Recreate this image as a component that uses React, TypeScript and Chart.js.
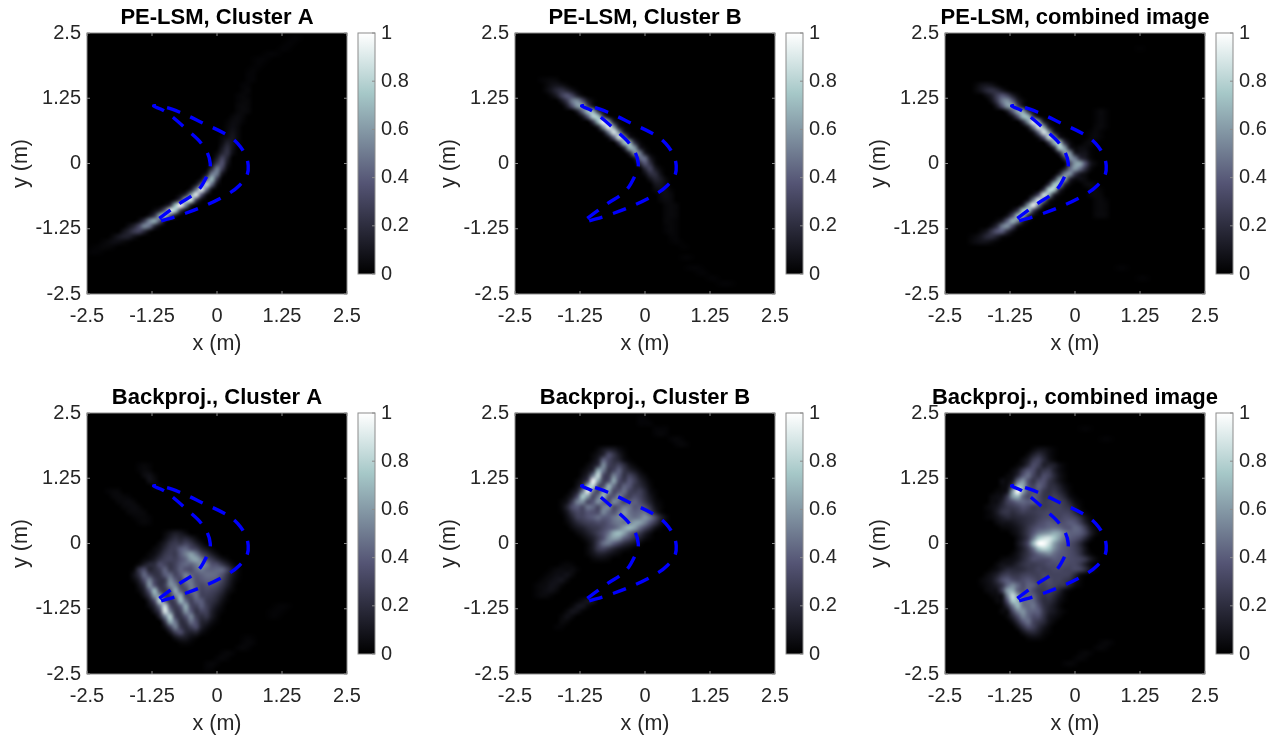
import React, { useEffect, useRef } from "react";
import { Chart, registerables } from "chart.js";

Chart.register(...registerables);

type Row = number[];

const axisTicks = [-2.5, -1.25, 0, 1.25, 2.5];
const barTicks = [0, 0.2, 0.4, 0.6, 0.8, 1];
const boneStops = [
  [0, 0, 0, 0],
  [0.375, 84, 84, 116],
  [0.75, 166, 200, 200],
  [1, 255, 255, 255],
];

const innerX = [-1.11, -0.71, -0.39, -0.2, -0.13, -0.26, -0.58, -1.0, -1.22];
const innerY = [-1.05, -0.76, -0.54, -0.25, 0.0, 0.33, 0.65, 1.0, 1.1];
const outerX = [-1.0, -0.71, -0.26, 0.19, 0.4, 0.54, 0.6, 0.57, 0.43, 0.25, -0.17, -0.65, -1.14];
const outerY = [1.08, 0.98, 0.77, 0.55, 0.38, 0.17, -0.04, -0.24, -0.42, -0.56, -0.78, -0.97, -1.12];

// Each row: y (m), first x (m), then values in percent at a 0.1 m step.
const peA: Row[] = [
  [2.4, 1.4, 1, 2, 1], [2.3, 1.3, 1, 2, 1], [2.2, 1.2, 1, 2, 1], [2.1, 0.9, 1, 2, 2, 1], [2.0, 0.7, 1, 2, 2, 1],
  [1.9, 0.7, 1, 2, 1], [1.8, 0.6, 1, 2, 1], [1.7, 0.6, 2, 2], [1.6, 0.6, 2, 2], [1.5, 0.5, 2, 2], [1.4, 0.5, 2, 3],
  [1.3, 0.4, 2, 3, 2], [1.2, 0.4, 2, 3, 3], [1.1, 0.4, 3, 4, 3], [1.0, 0.4, 3, 4, 3], [0.9, 0.3, 3, 5, 3],
  [0.8, 0.2, 2, 5, 5, 2], [0.7, 0.2, 3, 6, 4], [0.6, 0.2, 4, 8, 4], [0.5, 0.1, 3, 6, 10, 4], [0.4, 0.1, 5, 14, 9, 3],
  [0.3, 0.1, 10, 20, 8], [0.2, 0, 4, 16, 22, 6], [0.1, 0, 12, 30, 16], [0, -0.1, 5, 26, 36, 10],
  [-0.1, -0.1, 20, 50, 28, 4], [-0.2, -0.2, 10, 50, 50, 10], [-0.3, -0.3, 8, 42, 70, 25],
  [-0.4, -0.4, 10, 42, 82, 45, 6], [-0.5, -0.5, 12, 50, 92, 45, 6], [-0.6, -0.7, 5, 20, 60, 92, 38, 6],
  [-0.7, -0.8, 8, 30, 78, 88, 28, 4], [-0.8, -1.0, 5, 20, 72, 100, 55, 12], [-0.9, -1.2, 5, 15, 42, 90, 78, 25, 4],
  [-1.0, -1.3, 8, 24, 64, 78, 40, 10], [-1.1, -1.5, 6, 24, 54, 66, 38, 10], [-1.2, -1.7, 6, 15, 32, 54, 48, 18, 4],
  [-1.3, -1.8, 8, 16, 26, 30, 18, 5], [-1.4, -2.0, 4, 10, 14, 14, 8, 3], [-1.5, -2.2, 2, 4, 6, 6, 4, 2],
  [-1.6, -2.4, 1, 2, 3, 3, 2], [-1.7, -2.5, 1, 2, 2, 1],
];

const peB: Row[] = [
  [1.6, -2.0, 2, 3, 4, 3], [1.5, -1.9, 3, 7, 9, 7, 3], [1.4, -1.9, 4, 10, 18, 22, 16, 8, 2], [1.3, -1.8, 4, 12, 28, 38, 30, 14, 4],
  [1.2, -1.6, 10, 26, 50, 56, 36, 12, 3], [1.1, -1.5, 12, 36, 60, 62, 30, 8], [1.0, -1.3, 14, 44, 72, 66, 22, 5],
  [0.9, -1.2, 10, 40, 80, 74, 26, 5], [0.8, -1.0, 24, 72, 100, 62, 14, 3], [0.7, -0.9, 14, 60, 96, 58, 12, 2],
  [0.6, -0.8, 10, 50, 90, 55, 12, 2], [0.5, -0.7, 8, 42, 88, 56, 14, 3], [0.4, -0.5, 28, 74, 70, 22, 4],
  [0.3, -0.4, 20, 68, 60, 14, 3], [0.2, -0.3, 16, 56, 50, 12, 2], [0.1, -0.2, 10, 44, 46, 12, 2],
  [0, -0.1, 18, 38, 22, 4], [-0.1, 0, 18, 30, 12, 3], [-0.2, 0, 6, 20, 20, 7], [-0.3, 0.1, 8, 16, 12, 4],
  [-0.4, 0.2, 9, 10, 5], [-0.5, 0.2, 4, 7, 6, 2], [-0.6, 0.3, 4, 6, 4], [-0.7, 0.3, 3, 5, 4], [-0.8, 0.4, 3, 4, 3],
  [-0.9, 0.4, 3, 4, 3], [-1.0, 0.4, 3, 4, 3], [-1.1, 0.4, 3, 3, 2], [-1.2, 0.4, 2, 3, 2], [-1.3, 0.4, 2, 3, 2],
  [-1.4, 0.5, 2, 2], [-1.5, 0.5, 1, 2, 1], [-1.6, 0.7, 1, 1], [-1.8, 0.7, 1, 2, 1], [-2.0, 0.8, 1, 2, 2, 1], [-2.1, 1.0, 1, 2, 1],
  [-2.2, 1.2, 1, 2, 1], [-2.3, 1.4, 1, 2, 2, 1],
];

const peCombined: Row[] = [
  [1.5, -1.9, 3, 8, 10, 8, 3], [1.4, -1.9, 4, 10, 18, 22, 18, 10, 3], [1.3, -1.7, 6, 14, 28, 38, 30, 14, 4],
  [1.2, -1.6, 8, 26, 50, 58, 40, 14, 4], [1.1, -1.5, 12, 36, 60, 62, 30, 8], [1.0, -1.3, 12, 40, 66, 62, 22, 5],
  [1.0, 0.4, 2, 4, 2], [0.9, -1.2, 8, 36, 72, 70, 26, 5], [0.9, 0.4, 2, 4, 2], [0.8, -1.0, 20, 60, 95, 62, 14, 3],
  [0.8, 0.4, 2, 4, 2], [0.7, -0.9, 12, 52, 92, 60, 14, 2], [0.7, 0.4, 3, 4, 2], [0.6, -0.8, 10, 46, 90, 58, 12, 2],
  [0.6, 0.3, 2, 4, 2], [0.5, -0.7, 8, 38, 85, 58, 14, 3], [0.5, 0.3, 3, 4, 2], [0.4, -0.5, 26, 70, 76, 24, 5],
  [0.4, 0.2, 3, 5, 2], [0.3, -0.4, 20, 78, 62, 14, 3, 5, 5, 2], [0.2, -0.3, 18, 60, 58, 12, 8, 8, 2],
  [0.1, -0.2, 22, 58, 50, 20, 12, 3], [0, -0.1, 30, 60, 64, 36, 10, 3], [-0.1, -0.2, 12, 44, 60, 46, 22, 5],
  [-0.2, -0.3, 16, 52, 58, 26, 10, 5], [-0.3, -0.4, 20, 66, 64, 18, 5, 6, 4], [-0.4, -0.5, 22, 74, 72, 20, 4],
  [-0.4, 0.2, 4, 5, 2], [-0.5, -0.6, 24, 80, 78, 20, 3], [-0.5, 0.3, 3, 4, 2], [-0.6, -0.8, 8, 34, 88, 64, 16, 3],
  [-0.6, 0.3, 3, 4, 3], [-0.7, -0.9, 10, 50, 90, 52, 12, 2], [-0.7, 0.4, 3, 4, 2], [-0.8, -1.0, 14, 60, 95, 50, 10, 2],
  [-0.8, 0.4, 3, 4, 3], [-0.9, -1.2, 6, 26, 74, 76, 30, 6], [-0.9, 0.4, 3, 4, 3], [-1.0, -1.3, 8, 34, 72, 66, 22, 4],
  [-1.0, 0.4, 3, 4, 3], [-1.1, -1.5, 4, 14, 42, 68, 52, 16, 3], [-1.2, -1.6, 6, 20, 50, 58, 34, 8, 2],
  [-1.3, -1.8, 4, 10, 24, 38, 40, 20, 6], [-1.4, -2.0, 2, 5, 10, 18, 20, 14, 5, 2], [-1.5, -2.0, 3, 6, 8, 8, 5, 2],
  [-2.0, 0.8, 1, 2, 1], [-2.2, 1.2, 1, 2, 1], [2.2, 1.2, 1, 1],
];

const bpA: Row[] = [
  [1.5, -1.5, 2, 3, 2], [1.4, -1.5, 2, 4, 3], [1.3, -1.4, 5, 7, 3], [1.2, -1.3, 7, 5], [1.1, -1.2, 3, 2],
  [1.0, -2.1, 2, 3, 3], [0.9, -2.0, 3, 4, 3, 2], [0.8, -1.9, 3, 4, 5, 3], [0.7, -1.8, 3, 4, 5, 3], [0.6, -1.7, 3, 4, 4, 3],
  [0.5, -1.6, 2, 3, 3, 2], [0.4, -1.5, 2, 3, 2],
  [0.2, -1.0, 3, 8, 12, 10, 5],
  [0.1, -1.0, 6, 14, 20, 16, 18, 12, 5],
  [0, -1.1, 5, 12, 22, 26, 24, 30, 24, 14, 6],
  [-0.1, -1.2, 4, 8, 18, 26, 28, 40, 44, 34, 28, 16, 8, 3],
  [-0.2, -1.3, 3, 6, 14, 24, 28, 26, 40, 52, 62, 50, 32, 22, 12, 5],
  [-0.3, -1.4, 3, 6, 12, 22, 28, 30, 28, 36, 44, 60, 64, 50, 34, 26, 16, 8, 3],
  [-0.4, -1.5, 4, 12, 18, 20, 34, 30, 24, 30, 40, 44, 42, 50, 58, 50, 36, 34, 24, 14, 5],
  [-0.5, -1.6, 3, 24, 34, 16, 20, 28, 42, 26, 30, 42, 36, 34, 44, 50, 44, 42, 44, 44, 30, 14, 4],
  [-0.6, -1.6, 8, 22, 44, 30, 22, 24, 40, 44, 30, 38, 52, 42, 38, 42, 46, 46, 44, 36, 22, 10, 3],
  [-0.7, -1.6, 4, 14, 34, 52, 30, 22, 26, 54, 40, 30, 50, 48, 36, 38, 42, 42, 40, 30, 18, 7, 2],
  [-0.8, -1.5, 8, 22, 58, 36, 22, 28, 56, 52, 30, 40, 50, 38, 32, 36, 36, 32, 24, 14, 5],
  [-0.9, -1.5, 4, 14, 40, 70, 32, 24, 36, 66, 40, 30, 48, 42, 30, 32, 30, 26, 18, 8, 3],
  [-1.0, -1.4, 8, 24, 60, 58, 26, 28, 52, 66, 30, 34, 46, 30, 28, 26, 20, 12, 4],
  [-1.1, -1.3, 12, 34, 82, 42, 24, 32, 70, 46, 28, 40, 40, 26, 22, 16, 7, 2],
  [-1.2, -1.3, 6, 18, 48, 86, 34, 24, 40, 66, 32, 28, 40, 28, 18, 10, 4],
  [-1.3, -1.2, 10, 28, 90, 52, 24, 28, 58, 40, 22, 30, 28, 14, 6, 2],
  [-1.4, -1.1, 16, 50, 80, 30, 22, 36, 54, 28, 20, 24, 12, 4],
  [-1.5, -1.0, 24, 66, 48, 20, 24, 46, 34, 16, 14, 6, 2],
  [-1.6, -1.0, 8, 30, 52, 26, 18, 28, 34, 14, 6, 2],
  [-1.7, -0.9, 10, 28, 34, 18, 14, 16, 6, 2],
  [-1.8, -0.8, 8, 14, 12, 6, 3],
  [-1.9, -0.7, 3, 4, 2],
  [-1.2, 1.1, 1, 2, 2, 1], [-1.3, 1.0, 1, 2, 2, 1], [-1.4, 1.0, 1, 2, 1],
  [-1.8, 0.5, 1, 2, 1], [-1.9, 0.5, 2, 3, 2], [-2.0, 0.4, 2, 3, 2], [-2.1, 0.1, 2, 3, 2], [-2.2, 0, 2, 3, 2],
  [-2.3, -0.2, 2, 3, 2], [-2.4, -0.2, 2, 2],
];

const bpB: Row[] = [
  [2.4, -0.1, 2, 2], [2.3, -0.1, 2, 2, 2], [2.2, 0.2, 2, 2, 2], [2.1, 0.2, 2, 3, 2], [2.0, 0.5, 2, 3, 2],
  [1.9, 0.6, 2, 3, 2],
  [1.8, -0.9, 4, 10, 14, 12, 6, 2],
  [1.7, -1.0, 3, 8, 16, 34, 24, 12, 4],
  [1.6, -1.0, 5, 14, 42, 32, 22, 16, 6, 2],
  [1.5, -1.1, 4, 10, 22, 56, 30, 24, 30, 20, 8, 3],
  [1.4, -1.2, 3, 8, 18, 66, 50, 24, 30, 42, 24, 16, 10, 4],
  [1.3, -1.2, 6, 16, 50, 84, 32, 26, 52, 40, 22, 30, 22, 10, 4],
  [1.2, -1.3, 4, 12, 30, 96, 62, 28, 34, 64, 34, 26, 38, 28, 16, 8, 2],
  [1.1, -1.3, 8, 22, 72, 82, 34, 34, 68, 46, 28, 42, 38, 24, 20, 12, 4],
  [1.0, -1.4, 6, 16, 50, 92, 48, 30, 60, 60, 32, 38, 46, 30, 26, 28, 18, 6, 2],
  [0.9, -1.5, 4, 12, 34, 76, 60, 32, 48, 70, 38, 38, 54, 36, 28, 34, 30, 20, 10, 3],
  [0.8, -1.6, 3, 8, 26, 52, 56, 32, 38, 58, 44, 34, 56, 46, 30, 38, 42, 34, 24, 14, 5, 2],
  [0.7, -1.6, 4, 16, 34, 40, 32, 48, 44, 32, 50, 54, 34, 40, 50, 48, 38, 40, 34, 22, 8, 3],
  [0.6, -1.6, 2, 10, 24, 32, 30, 38, 36, 34, 54, 44, 36, 48, 60, 48, 42, 44, 46, 30, 14, 4],
  [0.5, -1.5, 6, 16, 28, 30, 36, 40, 46, 40, 40, 48, 54, 54, 50, 46, 50, 58, 50, 34, 16, 5],
  [0.4, -1.5, 3, 10, 18, 24, 28, 30, 34, 32, 38, 46, 50, 48, 52, 62, 62, 52, 38, 24, 10, 3],
  [0.3, -1.4, 5, 10, 14, 20, 24, 26, 32, 38, 42, 50, 62, 70, 62, 46, 32, 20, 8, 2],
  [0.2, -1.3, 4, 8, 14, 20, 28, 36, 48, 66, 72, 62, 46, 34, 26, 14, 6],
  [0.1, -1.2, 3, 8, 14, 24, 36, 54, 62, 58, 42, 32, 22, 14, 6, 2],
  [0, -1.1, 4, 12, 28, 46, 50, 40, 30, 20, 14, 8, 3], [-0.1, -1.1, 4, 12, 26, 30, 24, 16, 10, 6, 3],
  [-0.2, -1.1, 3, 8, 14, 14, 10, 6, 3], [-0.3, -1.0, 3, 5, 5, 3],
  [-0.4, -1.6, 2, 3, 2], [-0.5, -1.8, 2, 4, 5, 4, 5, 2], [-0.6, -1.9, 2, 4, 6, 6, 8, 4], [-0.7, -2.0, 2, 4, 6, 8, 9, 4],
  [-0.8, -2.1, 2, 4, 5, 8, 7, 3], [-0.9, -2.1, 2, 4, 6, 7, 4], [-1.0, -2.1, 2, 4, 4, 2],
  [-1.1, -1.3, 2, 6, 10, 8], [-1.2, -1.4, 3, 9, 10, 4], [-1.3, -1.5, 4, 9, 7, 2], [-1.4, -1.6, 3, 7, 4], [-1.5, -1.6, 4, 3], [-1.6, -1.7, 2, 2],
];

const bpCombined: Row[] = [
  [1.8, -0.8, 4, 8, 8, 5, 2], [1.7, -0.9, 5, 14, 20, 14, 6, 2], [1.6, -1.0, 5, 12, 26, 30, 18, 8, 3],
  [1.5, -1.1, 3, 8, 20, 34, 28, 14, 16, 14, 6, 2], [1.4, -1.2, 4, 10, 26, 38, 34, 20, 24, 26, 14, 6, 2],
  [1.3, -1.3, 3, 6, 18, 38, 46, 30, 22, 34, 30, 18, 8, 3], [1.2, -1.4, 6, 4, 12, 44, 58, 36, 24, 34, 36, 24, 16, 8, 3],
  [1.1, -1.4, 4, 6, 28, 70, 66, 36, 30, 42, 34, 22, 20, 14, 6, 2], [1.0, -1.5, 3, 4, 10, 60, 100, 62, 38, 34, 38, 26, 22, 24, 18, 10, 3],
  [0.9, -1.6, 4, 6, 8, 26, 60, 70, 44, 32, 40, 34, 24, 24, 28, 24, 16, 6, 2],
  [0.8, -1.6, 5, 6, 14, 28, 36, 44, 44, 40, 42, 34, 26, 28, 30, 28, 24, 14, 5, 2],
  [0.7, -1.7, 3, 6, 10, 18, 24, 26, 30, 36, 32, 26, 28, 26, 28, 30, 30, 26, 22, 10, 3],
  [0.6, -1.7, 2, 5, 12, 22, 24, 20, 24, 28, 26, 26, 28, 30, 32, 30, 30, 30, 28, 18, 6, 2],
  [0.5, -1.7, 2, 4, 8, 14, 18, 16, 18, 20, 22, 24, 28, 32, 34, 32, 30, 34, 34, 30, 20, 8, 2],
  [0.4, -1.5, 5, 8, 8, 10, 14, 18, 22, 26, 32, 36, 40, 38, 34, 36, 40, 38, 28, 14, 4],
  [0.3, -1.4, 3, 4, 6, 10, 16, 24, 32, 38, 40, 44, 46, 44, 38, 38, 44, 40, 26, 10, 3],
  [0.2, -1.2, 4, 8, 16, 26, 38, 50, 56, 60, 66, 62, 50, 42, 42, 40, 30, 14, 4],
  [0.1, -1.1, 6, 14, 26, 50, 76, 86, 88, 76, 60, 46, 40, 36, 30, 18, 6],
  [0, -1.1, 8, 18, 34, 70, 100, 100, 86, 62, 48, 40, 34, 28, 18, 6],
  [-0.1, -1.1, 6, 14, 26, 46, 72, 82, 74, 56, 44, 38, 34, 28, 20, 8],
  [-0.2, -1.2, 3, 8, 16, 24, 34, 44, 50, 54, 46, 40, 38, 34, 30, 22, 10, 3],
  [-0.3, -1.4, 3, 5, 6, 10, 18, 26, 34, 34, 34, 36, 40, 38, 36, 34, 32, 30, 24, 12, 4],
  [-0.4, -1.5, 4, 8, 8, 10, 16, 22, 26, 26, 28, 30, 34, 34, 36, 34, 32, 32, 26, 14, 4],
  [-0.5, -1.6, 3, 6, 12, 18, 18, 18, 20, 24, 26, 30, 28, 30, 32, 32, 30, 30, 32, 30, 20, 8, 2],
  [-0.6, -1.7, 4, 8, 14, 24, 28, 24, 24, 28, 30, 28, 28, 32, 30, 30, 30, 30, 28, 18, 6, 2],
  [-0.7, -1.8, 3, 6, 10, 20, 34, 40, 34, 30, 34, 38, 34, 28, 32, 34, 30, 30, 26, 22, 10, 3],
  [-0.8, -1.8, 2, 5, 8, 14, 24, 44, 54, 44, 34, 42, 40, 30, 28, 32, 30, 26, 24, 14, 5, 2],
  [-0.9, -1.7, 4, 6, 8, 28, 62, 66, 42, 36, 42, 34, 26, 26, 28, 24, 16, 6, 2],
  [-1.0, -1.6, 3, 5, 8, 52, 84, 60, 40, 40, 40, 28, 22, 24, 18, 10, 3],
  [-1.1, -1.5, 4, 6, 36, 76, 68, 44, 46, 44, 30, 20, 20, 14, 6, 2],
  [-1.2, -1.4, 3, 18, 48, 70, 48, 44, 48, 36, 22, 16, 10, 4], [-1.3, -1.4, 4, 5, 30, 52, 58, 44, 42, 40, 24, 14, 10, 5, 2],
  [-1.4, -1.3, 4, 16, 34, 52, 44, 34, 34, 22, 10, 6, 3], [-1.5, -1.2, 6, 20, 38, 46, 30, 24, 18, 8, 3],
  [-1.6, -1.1, 8, 22, 34, 28, 18, 10, 4], [-1.7, -1.0, 8, 16, 18, 12, 5, 2], [-1.8, -0.9, 4, 6, 5, 2],
  [-1.9, 0.5, 2, 3, 2], [-2.0, 0.4, 2, 3, 2], [-2.1, 0.1, 2, 3, 2], [-2.2, 0, 2, 3, 2], [-2.3, -0.2, 2, 3, 2],
  [2.2, 0.1, 1, 2, 1], [2.0, 0.5, 1, 2, 1],
];

const panelTitles = [
  "PE-LSM, Cluster A", "PE-LSM, Cluster B", "PE-LSM, combined image",
  "Backproj., Cluster A", "Backproj., Cluster B", "Backproj., combined image",
];
const panelRows = [peA, peB, peCombined, bpA, bpB, bpCombined];
const plotLefts = [87, 515, 945];
const plotTops = [33, 413];

const FONT = "Arial, 'Liberation Sans', sans-serif";
const TEXT = "#262626";
const FRAME = "#8c8c8c";

function bone(v: number): number[] {
  const t = Math.max(0, Math.min(1, v));
  for (let i = 1; i < boneStops.length; i++) {
    const a = boneStops[i - 1], b = boneStops[i];
    if (t <= b[0]) {
      const f = (t - a[0]) / (b[0] - a[0]);
      return [1, 2, 3].map((k) => a[k] + (b[k] - a[k]) * f);
    }
  }
  return [255, 255, 255];
}

function rowsToCells(rows: Row[]) {
  const cells: { x: number; y: number; v: number }[] = [];
  rows.forEach(([y, x0, ...vals]) => {
    vals.forEach((v, i) => cells.push({ x: x0 + i * 0.1, y, v: v / 100 }));
  });
  return cells;
}

const heatPlugin = {
  id: "heat",
  beforeDatasetsDraw(chart: any) {
    const { ctx, chartArea: a, scales } = chart;
    const cells = chart.data.datasets[1].data;
    const n = 51;
    const off = document.createElement("canvas");
    off.width = n;
    off.height = n;
    const oc = off.getContext("2d")!;
    const img = oc.createImageData(n, n);
    for (let i = 3; i < img.data.length; i += 4) img.data[i] = 255;
    cells.forEach((c: any) => {
      const col = Math.round((c.x + 2.5) * 10);
      const row = Math.round((2.5 - c.y) * 10);
      if (col < 0 || col >= n || row < 0 || row >= n) return;
      const rgb = bone(c.v);
      const p = (row * n + col) * 4;
      img.data[p] = rgb[0];
      img.data[p + 1] = rgb[1];
      img.data[p + 2] = rgb[2];
    });
    oc.putImageData(img, 0, 0);
    const x0 = scales.x.getPixelForValue(-2.55), x1 = scales.x.getPixelForValue(2.55);
    const y0 = scales.y.getPixelForValue(2.55), y1 = scales.y.getPixelForValue(-2.55);
    ctx.save();
    ctx.beginPath();
    ctx.rect(a.left, a.top, a.width, a.height);
    ctx.clip();
    ctx.imageSmoothingEnabled = true;
    ctx.imageSmoothingQuality = "high";
    ctx.drawImage(off, x0, y0, x1 - x0, y1 - y0);
    ctx.restore();
  },
  afterDraw(chart: any) {
    const { ctx, chartArea: a, scales } = chart;
    ctx.save();
    ctx.strokeStyle = FRAME;
    ctx.lineWidth = 1;
    ctx.strokeRect(a.left, a.top, a.width, a.height);
    axisTicks.forEach((t) => {
      const px = scales.x.getPixelForValue(t);
      const py = scales.y.getPixelForValue(t);
      ctx.beginPath();
      ctx.moveTo(px, a.bottom); ctx.lineTo(px, a.bottom - 3);
      ctx.moveTo(px, a.top); ctx.lineTo(px, a.top + 3);
      ctx.moveTo(a.left, py); ctx.lineTo(a.left + 3, py);
      ctx.moveTo(a.right, py); ctx.lineTo(a.right - 3, py);
      ctx.stroke();
    });
    ctx.restore();
  },
};

const barFramePlugin = {
  id: "barFrame",
  afterDraw(chart: any) {
    const { ctx, chartArea: a, scales } = chart;
    ctx.save();
    ctx.strokeStyle = FRAME;
    ctx.lineWidth = 1;
    ctx.strokeRect(a.left, a.top, a.width, a.height);
    barTicks.forEach((t) => {
      const py = scales.y.getPixelForValue(t);
      ctx.beginPath();
      ctx.moveTo(a.right, py); ctx.lineTo(a.right - 3, py);
      ctx.stroke();
    });
    ctx.restore();
  },
};

function Panel({ index }: { index: number }) {
  const ref = useRef<HTMLCanvasElement>(null);
  useEffect(() => {
    const outline = [
      ...innerX.map((x, i) => ({ x, y: innerY[i] })),
      ...outerX.map((x, i) => ({ x, y: outerY[i] })),
    ];
    const chart = new Chart(ref.current!, {
      type: "scatter",
      data: {
        datasets: [
          {
            data: outline,
            showLine: true,
            borderColor: "#0000ff",
            borderWidth: 3.4,
            borderDash: [14, 11],
            tension: 0.4,
            pointRadius: 0,
            fill: false,
          },
          { data: rowsToCells(panelRows[index]), pointRadius: 0, showLine: false },
        ],
      } as any,
      options: {
        animation: false,
        responsive: false,
        events: [],
        plugins: {
          legend: { display: false },
          tooltip: { enabled: false },
          title: {
            display: true,
            text: panelTitles[index],
            color: "#000",
            font: { family: FONT, size: 22, weight: "bold" },
            padding: { top: 5, bottom: 1.6 },
          },
        },
        scales: {
          x: {
            type: "linear",
            min: -2.5,
            max: 2.5,
            afterBuildTicks: (s: any) => { s.ticks = axisTicks.map((value) => ({ value })); },
            afterFit: (s: any) => { s.height = 63; },
            grid: { display: false, drawTicks: false },
            border: { display: false },
            ticks: {
              color: TEXT, font: { family: FONT, size: 20 }, padding: 10, maxRotation: 0, autoSkip: false,
              callback: (v: any) => String(v),
            },
            title: { display: true, text: "x (m)", color: TEXT, font: { family: FONT, size: 21.5 }, padding: 0 },
          },
          y: {
            type: "linear",
            min: -2.5,
            max: 2.5,
            afterBuildTicks: (s: any) => { s.ticks = axisTicks.map((value) => ({ value })); },
            afterFit: (s: any) => { s.width = 87; },
            grid: { display: false, drawTicks: false },
            border: { display: false },
            ticks: {
              color: TEXT, font: { family: FONT, size: 20 }, padding: 6, autoSkip: false,
              callback: (v: any) => String(v),
            },
            title: { display: true, text: "y (m)", color: TEXT, font: { family: FONT, size: 21.5 }, padding: { top: 8, bottom: 0 } },
          },
          spacer: {
            type: "linear",
            position: "right",
            afterFit: (s: any) => { s.width = 87; },
            grid: { display: false, drawTicks: false },
            border: { display: false },
            ticks: { display: false },
          },
        },
      } as any,
      plugins: [heatPlugin],
    });
    return () => chart.destroy();
  }, [index]);
  const left = plotLefts[index % 3] - 87;
  const top = plotTops[Math.floor(index / 3)] - 33;
  return <canvas ref={ref} width={434} height={357} style={{ position: "absolute", left, top }} />;
}

function ColorBar({ index }: { index: number }) {
  const ref = useRef<HTMLCanvasElement>(null);
  useEffect(() => {
    const chart = new Chart(ref.current!, {
      type: "bar",
      data: {
        labels: [""],
        datasets: [
          {
            data: [1],
            barPercentage: 1,
            categoryPercentage: 1,
            backgroundColor: (c: any) => {
              const { chart: ch } = c;
              const y = ch.scales.y;
              if (!y || !ch.chartArea) return "#888";
              const g = ch.ctx.createLinearGradient(0, y.getPixelForValue(0), 0, y.getPixelForValue(1));
              boneStops.forEach((s) => g.addColorStop(s[0], `rgb(${s[1]},${s[2]},${s[3]})`));
              return g;
            },
          },
        ],
      } as any,
      options: {
        animation: false,
        responsive: false,
        events: [],
        layout: { padding: { left: 1, right: 0, top: 22, bottom: 22 } },
        plugins: { legend: { display: false }, tooltip: { enabled: false } },
        scales: {
          x: { display: false },
          y: {
            position: "right",
            min: 0,
            max: 1,
            afterBuildTicks: (s: any) => { s.ticks = barTicks.map((value) => ({ value })); },
            afterFit: (s: any) => { s.width = 42; },
            grid: { display: false, drawTicks: false },
            border: { display: false },
            ticks: {
              color: TEXT, font: { family: FONT, size: 20 }, padding: 6, autoSkip: false,
              callback: (v: any) => String(v),
            },
          },
        },
      } as any,
      plugins: [barFramePlugin],
    });
    return () => chart.destroy();
  }, [index]);
  const left = plotLefts[index % 3] + 271 - 1;
  const top = plotTops[Math.floor(index / 3)] - 22;
  return <canvas ref={ref} width={60} height={285} style={{ position: "absolute", left, top }} />;
}

export default function App() {
  return (
    <div style={{ position: "absolute", left: 0, top: 0, width: 1276, height: 738, background: "#fff", overflow: "hidden" }}>
      {panelTitles.map((_, i) => <Panel key={i} index={i} />)}
      {panelTitles.map((_, i) => <ColorBar key={i} index={i} />)}
    </div>
  );
}
